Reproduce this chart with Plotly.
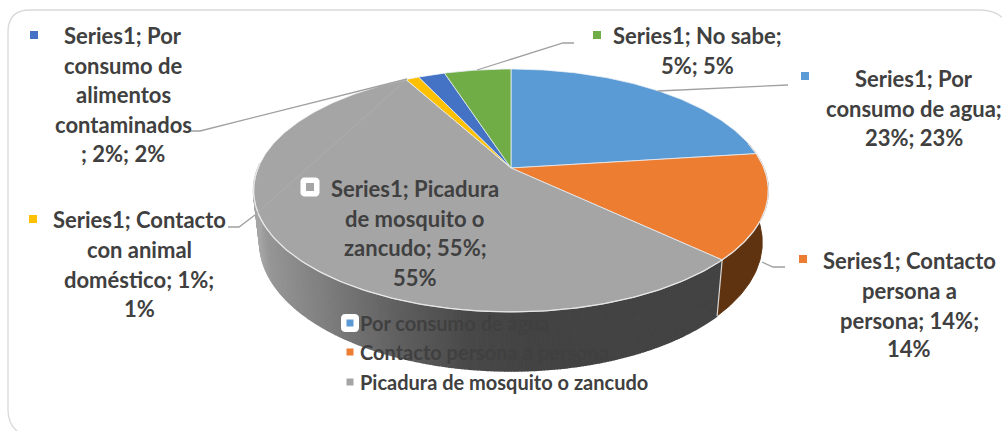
import math
import plotly.graph_objects as go

categories = ["Por consumo de agua", "Contacto persona a persona", "Picadura de mosquito o zancudo",
              "Contacto con animal doméstico", "Por consumo de alimentos contaminados", "No sabe"]
values = [23, 14, 55, 1, 2, 5]
top_colors = ["#5b9bd5", "#ed7d31", "#a5a5a5", "#ffc000", "#4472c4", "#70ad47"]

label_lines = [
    ["Series1; Por", "consumo de agua;", "23%; 23%"],
    ["Series1; Contacto", "persona a", "persona; 14%;", "14%"],
    ["Series1; Picadura", "de mosquito o", "zancudo; 55%;", "55%"],
    ["Series1; Contacto", "con animal", "doméstico; 1%;", "1%"],
    ["Series1; Por", "consumo de", "alimentos", "contaminados", "; 2%; 2%"],
    ["Series1; No sabe;", "5%; 5%"],
]
label_x = [914, 909, 415, 139, 123, 697]
label_y = [[78, 108, 137], [260, 290, 320, 348], [188, 218, 247, 277],
           [219, 249, 279, 308], [35, 65, 94, 124, 153], [35, 65]]
swatch_x = [805, 803, 310, 33, 34, 597]
swatch_y = [76, 259, 187, 219, 35, 35]
legend_names = categories[:3]
legend_y = [323, 352, 382]

leaders = [
    ([658, 788], [91, 85]),
    ([762, 773, 785], [262, 267, 267]),
    ([255, 239, 228], [215, 227, 227]),
    ([407, 200, 190], [79, 131, 131]),
    ([477, 563, 574], [70, 43, 43]),
]

CX, CY, A, B, K = 511, 168, 253, 117.3, 0.185
DEPTH, SY, SX = 50.7, 1.058, 0.976


def rim(theta):
    X, Y = math.sin(theta), math.cos(theta)
    w = 1 + K * Y
    return CX + A * X / w, CY - B * Y / w


def low(theta):
    x, y = rim(theta)
    return CX + (x - CX) * SX, CY + (y - CY) * SY + DEPTH


def arc(fn, a0, a1, n=None):
    n = n or max(3, int(abs(a1 - a0) * 80))
    return [fn(a0 + (a1 - a0) * i / n) for i in range(n + 1)]


def gray_for_x(x):
    stops = [(255, 166), (267, 150), (333, 122), (400, 94), (470, 72), (530, 67), (1000, 67)]
    for (x0, v0), (x1, v1) in zip(stops, stops[1:]):
        if x <= x1:
            v = v0 + (v1 - v0) * (max(x, x0) - x0) / (x1 - x0)
            return f"rgb({v:.0f},{v:.0f},{v:.0f})"
    return "rgb(67,67,67)"


cum = [0]
for v in values:
    cum.append(cum[-1] + v)
ang = [c / sum(values) * 2 * math.pi for c in cum]

fig = go.Figure()


def poly(pts, fill, line=None, width=1):
    fig.add_trace(go.Scatter(x=[p[0] for p in pts], y=[p[1] for p in pts], mode="lines",
                             fill="toself", fillcolor=fill,
                             line=dict(color=line or fill, width=width),
                             hoverinfo="skip", showlegend=False))


# orange wall
poly(arc(rim, 1.35, ang[2]) + arc(low, ang[2], 1.35), "#5f3310")
# gray wall in strips
steps = 220
end = math.radians(272)
for i in range(steps):
    a0 = ang[2] + (end - ang[2]) * i / steps
    a1 = ang[2] + (end - ang[2]) * (i + 1) / steps
    pts = [rim(a0), rim(a1), low(a1), low(a0)]
    poly(pts, gray_for_x(rim((a0 + a1) / 2)[0]), width=1.5)
# edge between walls
fig.add_trace(go.Scatter(x=[rim(ang[2])[0], low(ang[2])[0]], y=[rim(ang[2])[1], low(ang[2])[1]],
                         mode="lines", line=dict(color="#d8d8d8", width=1.2),
                         hoverinfo="skip", showlegend=False))

# top slices
for i, col in enumerate(top_colors):
    poly([(CX, CY)] + arc(rim, ang[i], ang[i + 1]) + [(CX, CY)], col,
         line="rgba(235,240,245,0.75)", width=1)
# bright front rim
front = arc(rim, 1.35, end)
fig.add_trace(go.Scatter(x=[p[0] for p in front], y=[p[1] for p in front], mode="lines",
                         line=dict(color="rgba(235,235,235,0.85)", width=1.3),
                         hoverinfo="skip", showlegend=False))

# leaders
for lx, ly in leaders:
    fig.add_trace(go.Scatter(x=lx, y=ly, mode="lines", line=dict(color="#a0a0a0", width=1.3),
                             hoverinfo="skip", showlegend=False))
fig.add_trace(go.Scatter(x=[407, 255], y=[79, 215], mode="lines",
                         line=dict(color="#aeaeae", width=1), hoverinfo="skip", showlegend=False))


def rounded_box(cx, cy, half, r):
    pts = []
    for sx, sy, start in [(1, -1, -90), (1, 1, 0), (-1, 1, 90), (-1, -1, 180)]:
        ccx, ccy = cx + sx * (half - r), cy + sy * (half - r)
        for k in range(5):
            t = math.radians(start + k * 22.5)
            pts.append((ccx + r * math.cos(t), ccy + r * math.sin(t)))
    return pts + [pts[0]]


poly(rounded_box(310, 187, 9, 3), "white")
poly(rounded_box(350, 323, 8.5, 3), "white")

# swatches
fig.add_trace(go.Scatter(x=swatch_x, y=swatch_y, mode="markers",
                         marker=dict(symbol="square", size=8, color=top_colors),
                         hoverinfo="skip", showlegend=False))
fig.add_trace(go.Scatter(x=[350] * 3, y=legend_y, mode="markers",
                         marker=dict(symbol="square", size=7, color=top_colors[:3]),
                         hoverinfo="skip", showlegend=False))

annotations = []
for lines, x, ys in zip(label_lines, label_x, label_y):
    for t, y in zip(lines, ys):
        annotations.append(dict(x=x, y=y, text=t, showarrow=False, xanchor="center", yanchor="middle",
                                font=dict(family="Lato", size=22, color="#404040", weight="bold")))
for name, y in zip(legend_names, legend_y):
    annotations.append(dict(x=358, y=y, text=name, showarrow=False, xanchor="left", yanchor="middle",
                            font=dict(family="Lato", size=20, color="#404040", weight="bold")))

fig.update_layout(
    width=1002, height=431, margin=dict(l=0, r=0, t=0, b=0),
    paper_bgcolor="white", plot_bgcolor="white", showlegend=False,
    xaxis=dict(range=[0, 1002], visible=False, fixedrange=True),
    yaxis=dict(range=[431, 0], visible=False, fixedrange=True),
    annotations=annotations,
    shapes=[dict(type="path", layer="below", xref="x", yref="y",
                 path="M 8 32 Q 8 10 30 10 L 980 10 Q 1002 10 1012 30 L 1012 410 Q 1012 431 990 438 "
                      "L 30 438 Q 8 431 8 410 Z",
                 line=dict(color="#d9d9d9", width=1.3), fillcolor="white")],
)
fig.write_html("out.html", config={"displayModeBar": False},
               post_script="document.body.style.margin='0';document.body.style.overflow='hidden';")
